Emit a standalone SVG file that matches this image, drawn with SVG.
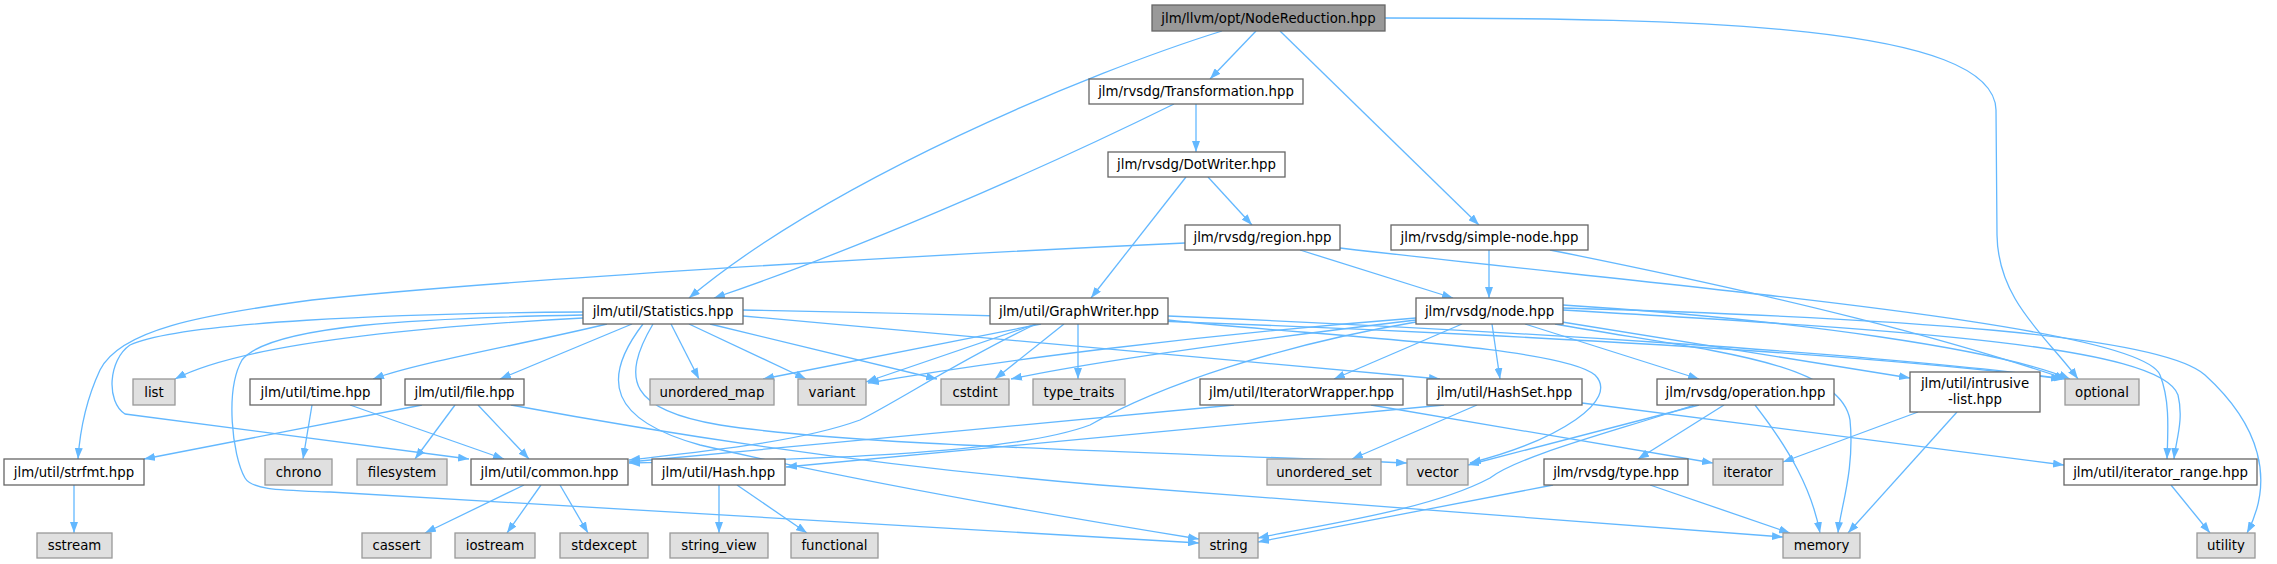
<svg xmlns="http://www.w3.org/2000/svg" width="2277" height="564" viewBox="0 0 2277 564">
<defs>
<style>
.e{fill:none;stroke:#63b8ff;stroke-width:1.3;marker-end:url(#a)}
.n rect{fill:#fff;stroke:#666;stroke-width:1.3}
.s rect{fill:#e0e0e0;stroke:#999;stroke-width:1.3}
.r rect{fill:#999;stroke:#666;stroke-width:1.3}
text{font-family:"DejaVu Sans","Liberation Sans",sans-serif;font-size:13.3px;fill:#000;text-anchor:middle}
</style>
<marker id="a" markerUnits="userSpaceOnUse" markerWidth="11" markerHeight="8" refX="11" refY="4" orient="auto"><path d="M0,0 L11,4 L0,8 z" fill="#63b8ff"/></marker>
</defs>
<rect width="2277" height="564" fill="#fff"/>
<g id="edges">
<path class="e" d="M1222,31 C1090,72 830,180 689,298"/>
<path class="e" d="M1256,31 L1210,79"/>
<path class="e" d="M1280,31 L1479,225"/>
<path class="e" d="M1385,18 C1700,18 1994,25 1996,110 L1997,235 C1998,300 2045,335 2078,379"/>
<path class="e" d="M1196,104 L1196,152"/>
<path class="e" d="M1174,104 C1030,175 850,252 714,298"/>
<path class="e" d="M1186,177 L1091,298"/>
<path class="e" d="M1208,177 L1252,225"/>
<path class="e" d="M1300,250 L1453,298"/>
<path class="e" d="M1185,243 C900,256 500,280 312,300 C200,315 120,330 100,370 C86,400 80,430 78,459"/>
<path class="e" d="M1340,248 C1700,290 2140,325 2160,375 C2170,400 2168,430 2167,459"/>
<path class="e" d="M1489,250 L1489,298"/>
<path class="e" d="M1550,250 C1800,300 1950,340 2066,379"/>
<path class="e" d="M583,318 C450,325 250,340 175,379"/>
<path class="e" d="M607,324 C520,345 420,362 373,379"/>
<path class="e" d="M632,324 L500,379"/>
<path class="e" d="M671,324 L699,379"/>
<path class="e" d="M689,324 L806,379"/>
<path class="e" d="M710,324 L937,379"/>
<path class="e" d="M743,316 L1440,379"/>
<path class="e" d="M743,310 C1200,318 1800,345 2062,379"/>
<path class="e" d="M583,312 C400,313 180,322 130,345 C108,360 106,402 125,414 L469,459"/>
<path class="e" d="M583,315 C420,318 270,325 242,360 C225,390 232,455 245,478 C252,490 280,490 330,492 L1199,543"/>
<path class="e" d="M643,324 C600,380 610,420 700,445 C850,480 1050,515 1199,539"/>
<path class="e" d="M653,324 C620,380 630,410 720,425 C850,445 1100,450 1407,463"/>
<path class="e" d="M422,405 L144,459"/>
<path class="e" d="M455,405 L415,459"/>
<path class="e" d="M478,405 L529,459"/>
<path class="e" d="M511,405 C700,440 900,468 1100,485 L1783,537"/>
<path class="e" d="M312,405 L303,459"/>
<path class="e" d="M350,405 L504,459"/>
<path class="e" d="M74,485 L74,533"/>
<path class="e" d="M524,485 L425,533"/>
<path class="e" d="M541,485 L507,533"/>
<path class="e" d="M560,485 L588,533"/>
<path class="e" d="M719,485 L719,533"/>
<path class="e" d="M737,485 L807,533"/>
<path class="e" d="M1041,324 L763,379"/>
<path class="e" d="M1036,324 L866,382"/>
<path class="e" d="M1064,324 L995,379"/>
<path class="e" d="M1078,324 L1078,379"/>
<path class="e" d="M1036,324 C960,360 900,400 860,420 C800,442 700,452 629,460"/>
<path class="e" d="M1168,316 C1500,330 1900,355 2065,379"/>
<path class="e" d="M1168,320 C1300,335 1560,345 1595,375 C1620,400 1560,440 1470,463"/>
<path class="e" d="M1416,318 C1200,335 1000,360 868,383"/>
<path class="e" d="M1416,320 C1250,340 1100,360 1011,379"/>
<path class="e" d="M1416,322 C1280,345 1160,385 1090,425 C1010,455 800,460 629,463"/>
<path class="e" d="M1462,324 L1334,379"/>
<path class="e" d="M1492,324 L1500,379"/>
<path class="e" d="M1525,324 L1699,379"/>
<path class="e" d="M1562,322 L1910,378"/>
<path class="e" d="M1563,305 C1800,320 2000,350 2070,379"/>
<path class="e" d="M1563,310 C1900,330 2160,345 2178,395 C2184,420 2176,440 2174,459"/>
<path class="e" d="M1563,308 C1900,318 2160,335 2205,375 C2260,425 2275,480 2247,533"/>
<path class="e" d="M1555,324 C1700,350 1840,360 1850,420 C1855,470 1840,510 1838,533"/>
<path class="e" d="M1444,405 L786,467"/>
<path class="e" d="M1477,405 L1352,459"/>
<path class="e" d="M1582,403 L2064,465"/>
<path class="e" d="M1234,405 L629,462"/>
<path class="e" d="M1371,405 L1713,463"/>
<path class="e" d="M1724,405 L1638,459"/>
<path class="e" d="M1699,405 L1468,465"/>
<path class="e" d="M1694,405 C1620,430 1520,455 1490,478 C1430,510 1320,525 1258,538"/>
<path class="e" d="M1755,405 C1790,450 1812,490 1820,533"/>
<path class="e" d="M1553,485 L1258,542"/>
<path class="e" d="M1650,485 L1790,533"/>
<path class="e" d="M1918,412 L1783,462"/>
<path class="e" d="M1957,412 L1848,533"/>
<path class="e" d="M2171,485 L2210,533"/>
</g>
<g id="n_nr" class="r"><rect x="1152" y="5" width="233" height="26"/><text x="1268.5" y="22.7">jlm/llvm/opt/NodeReduction.hpp</text></g>
<g id="n_trans" class="n"><rect x="1089" y="79" width="214" height="25"/><text x="1196" y="96.2">jlm/rvsdg/Transformation.hpp</text></g>
<g id="n_dot" class="n"><rect x="1108" y="152" width="177" height="25"/><text x="1196.5" y="169.2">jlm/rvsdg/DotWriter.hpp</text></g>
<g id="n_region" class="n"><rect x="1185" y="225" width="155" height="25"/><text x="1262.5" y="242.2">jlm/rvsdg/region.hpp</text></g>
<g id="n_simple" class="n"><rect x="1391" y="225" width="197" height="25"/><text x="1489.5" y="242.2">jlm/rvsdg/simple-node.hpp</text></g>
<g id="n_stats" class="n"><rect x="583" y="298" width="160" height="26"/><text x="663" y="315.7">jlm/util/Statistics.hpp</text></g>
<g id="n_graph" class="n"><rect x="990" y="298" width="178" height="26"/><text x="1079" y="315.7">jlm/util/GraphWriter.hpp</text></g>
<g id="n_node" class="n"><rect x="1416" y="298" width="147" height="26"/><text x="1489.5" y="315.7">jlm/rvsdg/node.hpp</text></g>
<g id="n_list" class="s"><rect x="133" y="379" width="42" height="26"/><text x="154" y="396.7">list</text></g>
<g id="n_time" class="n"><rect x="250" y="379" width="131" height="26"/><text x="315.5" y="396.7">jlm/util/time.hpp</text></g>
<g id="n_file" class="n"><rect x="405" y="379" width="119" height="26"/><text x="464.5" y="396.7">jlm/util/file.hpp</text></g>
<g id="n_umap" class="s"><rect x="650" y="379" width="124" height="26"/><text x="712" y="396.7">unordered_map</text></g>
<g id="n_variant" class="s"><rect x="798" y="379" width="68" height="26"/><text x="832" y="396.7">variant</text></g>
<g id="n_cstdint" class="s"><rect x="941" y="379" width="68" height="26"/><text x="975" y="396.7">cstdint</text></g>
<g id="n_typetraits" class="s"><rect x="1033" y="379" width="92" height="26"/><text x="1079" y="396.7">type_traits</text></g>
<g id="n_iterwrap" class="n"><rect x="1200" y="379" width="203" height="26"/><text x="1301.5" y="396.7">jlm/util/IteratorWrapper.hpp</text></g>
<g id="n_hashset" class="n"><rect x="1427" y="379" width="155" height="26"/><text x="1504.5" y="396.7">jlm/util/HashSet.hpp</text></g>
<g id="n_operation" class="n"><rect x="1657" y="379" width="177" height="26"/><text x="1745.5" y="396.7">jlm/rvsdg/operation.hpp</text></g>
<g id="n_intrusive" class="n"><rect x="1910" y="372" width="130" height="40"/><text x="1975" y="388">jlm/util/intrusive</text><text x="1975" y="404">-list.hpp</text></g>
<g id="n_optional" class="s"><rect x="2065" y="379" width="74" height="26"/><text x="2102" y="396.7">optional</text></g>
<g id="n_strfmt" class="n"><rect x="4" y="459" width="140" height="26"/><text x="74" y="476.7">jlm/util/strfmt.hpp</text></g>
<g id="n_chrono" class="s"><rect x="265" y="459" width="67" height="26"/><text x="298.5" y="476.7">chrono</text></g>
<g id="n_filesystem" class="s"><rect x="357" y="459" width="90" height="26"/><text x="402" y="476.7">filesystem</text></g>
<g id="n_common" class="n"><rect x="471" y="459" width="157" height="26"/><text x="549.5" y="476.7">jlm/util/common.hpp</text></g>
<g id="n_hash" class="n"><rect x="652" y="459" width="133" height="26"/><text x="718.5" y="476.7">jlm/util/Hash.hpp</text></g>
<g id="n_uset" class="s"><rect x="1267" y="459" width="114" height="26"/><text x="1324" y="476.7">unordered_set</text></g>
<g id="n_vector" class="s"><rect x="1407" y="459" width="61" height="26"/><text x="1437.5" y="476.7">vector</text></g>
<g id="n_type" class="n"><rect x="1544" y="459" width="144" height="26"/><text x="1616" y="476.7">jlm/rvsdg/type.hpp</text></g>
<g id="n_iterator" class="s"><rect x="1713" y="459" width="70" height="26"/><text x="1748" y="476.7">iterator</text></g>
<g id="n_itrange" class="n"><rect x="2064" y="459" width="193" height="26"/><text x="2160.5" y="476.7">jlm/util/iterator_range.hpp</text></g>
<g id="n_sstream" class="s"><rect x="37" y="533" width="75" height="25"/><text x="74.5" y="550.2">sstream</text></g>
<g id="n_cassert" class="s"><rect x="362" y="533" width="69" height="25"/><text x="396.5" y="550.2">cassert</text></g>
<g id="n_iostream" class="s"><rect x="455" y="533" width="80" height="25"/><text x="495" y="550.2">iostream</text></g>
<g id="n_stdexcept" class="s"><rect x="560" y="533" width="88" height="25"/><text x="604" y="550.2">stdexcept</text></g>
<g id="n_stringview" class="s"><rect x="670" y="533" width="98" height="25"/><text x="719" y="550.2">string_view</text></g>
<g id="n_functional" class="s"><rect x="791" y="533" width="87" height="25"/><text x="834.5" y="550.2">functional</text></g>
<g id="n_string" class="s"><rect x="1199" y="533" width="59" height="25"/><text x="1228.5" y="550.2">string</text></g>
<g id="n_memory" class="s"><rect x="1783" y="533" width="77" height="25"/><text x="1821.5" y="550.2">memory</text></g>
<g id="n_utility" class="s"><rect x="2197" y="533" width="58" height="25"/><text x="2226" y="550.2">utility</text></g>
</svg>
